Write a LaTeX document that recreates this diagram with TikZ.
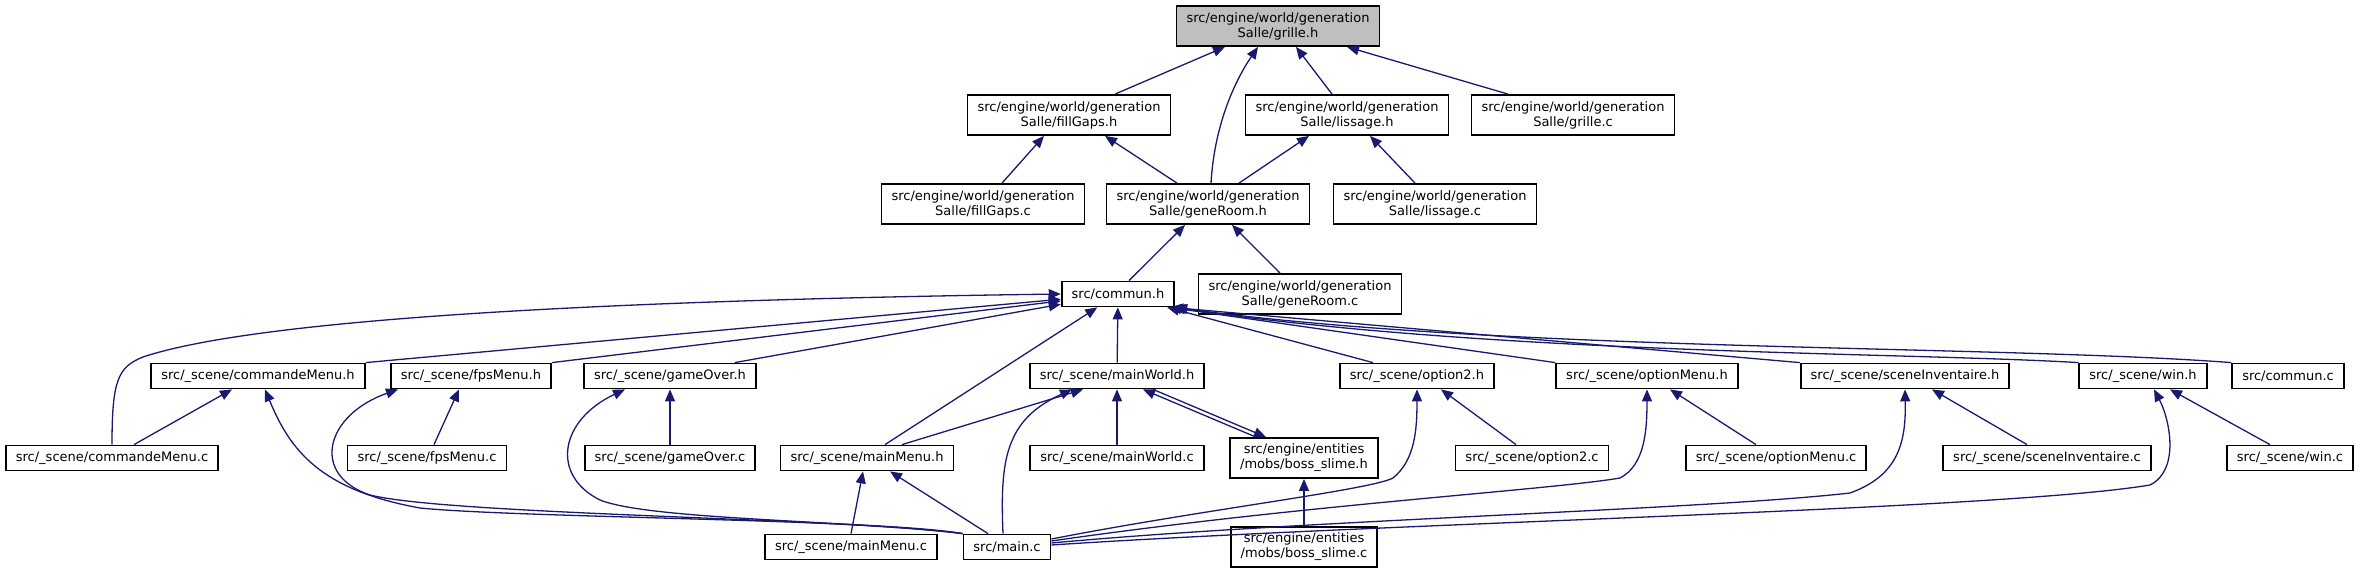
\documentclass[tikz,border=0pt]{standalone}
\usepackage{fontspec}
\setmainfont{DejaVu Sans}
\usetikzlibrary{arrows.meta}
\definecolor{edgeblue}{HTML}{191970}
\definecolor{rootgrey}{HTML}{BFBFBF}

\begin{document}
\begin{tikzpicture}[x=0.5pt, y=-0.5pt,
  box/.style={draw=black, line width=0.9pt, fill=white, inner xsep=5pt, inner ysep=1pt,
    minimum height=12.5pt, align=center, font=\fontsize{6.5}{7.5}\selectfont},
  tall/.style={box, minimum height=20pt},
  root/.style={tall, fill=rootgrey},
  inc/.style={draw=edgeblue, line width=0.65pt, -{Triangle[length=6pt,width=5pt]}}]
  \useasboundingbox (0,0) rectangle (2362,573);

  \node[root] (grilleH) at (1278,26) {src/engine/world/generation\\Salle/grille.h};
  \node[tall] (fillGapsH) at (1069,115) {src/engine/world/generation\\Salle/fillGaps.h};
  \node[tall] (lissageH) at (1347,115) {src/engine/world/generation\\Salle/lissage.h};
  \node[tall] (grilleC) at (1573,115) {src/engine/world/generation\\Salle/grille.c};
  \node[tall] (fillGapsC) at (983,204) {src/engine/world/generation\\Salle/fillGaps.c};
  \node[tall] (geneRoomH) at (1208,204) {src/engine/world/generation\\Salle/geneRoom.h};
  \node[tall] (lissageC) at (1435,204) {src/engine/world/generation\\Salle/lissage.c};
  \node[box] (communH) at (1118,294) {src/commun.h};
  \node[tall] (geneRoomC) at (1300,294) {src/engine/world/generation\\Salle/geneRoom.c};

  \node[box] (commandeMenuH) at (258,376) {src/\_scene/commandeMenu.h};
  \node[box] (fpsMenuH) at (471,376) {src/\_scene/fpsMenu.h};
  \node[box] (gameOverH) at (670,376) {src/\_scene/gameOver.h};
  \node[box] (mainWorldH) at (1117,376) {src/\_scene/mainWorld.h};
  \node[box] (option2H) at (1417,376) {src/\_scene/option2.h};
  \node[box] (optionMenuH) at (1647,376) {src/\_scene/optionMenu.h};
  \node[box] (sceneInvH) at (1905,376) {src/\_scene/sceneInventaire.h};
  \node[box] (winH) at (2143,376) {src/\_scene/win.h};
  \node[box] (communC) at (2288,376) {src/commun.c};

  \node[box] (commandeMenuC) at (112,458) {src/\_scene/commandeMenu.c};
  \node[box] (fpsMenuC) at (427,458) {src/\_scene/fpsMenu.c};
  \node[box] (gameOverC) at (670,458) {src/\_scene/gameOver.c};
  \node[box] (mainMenuH) at (867,458) {src/\_scene/mainMenu.h};
  \node[box] (mainWorldC) at (1117,458) {src/\_scene/mainWorld.c};
  \node[tall] (bossSlimeH) at (1304,458) {src/engine/entities\\/mobs/boss\_slime.h};
  \node[box] (option2C) at (1532,458) {src/\_scene/option2.c};
  \node[box] (optionMenuC) at (1776,458) {src/\_scene/optionMenu.c};
  \node[box] (sceneInvC) at (2047,458) {src/\_scene/sceneInventaire.c};
  \node[box] (winC) at (2290,458) {src/\_scene/win.c};

  \node[box] (mainMenuC) at (851,547) {src/\_scene/mainMenu.c};
  \node[box] (mainC) at (1007,547) {src/main.c};
  \node[tall] (bossSlimeC) at (1304,547) {src/engine/entities\\/mobs/boss\_slime.c};

  \draw[inc] ([xshift=23pt]fillGapsH.north) -- ([xshift=-26.5pt]grilleH.south);
  \draw[inc] ([xshift=1.5pt]geneRoomH.north) .. controls (1214,130) and (1232,85) .. ([xshift=-10pt]grilleH.south);
  \draw[inc] ([xshift=-7.5pt]lissageH.north) -- ([xshift=9pt]grilleH.south);
  \draw[inc] ([xshift=-32.5pt]grilleC.north) -- ([xshift=34.5pt]grilleH.south);
  \draw[inc] ([xshift=9.5pt]fillGapsC.north) -- ([xshift=-12.5pt]fillGapsH.south);
  \draw[inc] ([xshift=-15.5pt]geneRoomH.north) -- ([xshift=18pt]fillGapsH.south);
  \draw[inc] ([xshift=15.5pt]geneRoomH.north) -- ([xshift=-19pt]lissageH.south);
  \draw[inc] ([xshift=-10pt]lissageC.north) -- ([xshift=11.5pt]lissageH.south);
  \draw[inc] ([xshift=5.5pt]communH.north) -- ([xshift=-11.5pt]geneRoomH.south);
  \draw[inc] ([xshift=-10pt]geneRoomC.north) -- ([xshift=12pt]geneRoomH.south);

  \draw[inc] (commandeMenuC.north) .. controls (112,380) and (118,367) .. (143,357)
    .. controls (260,318) and (620,300) .. (communH.west);
  \draw[inc] (commandeMenuH.north east) -- (communH);
  \draw[inc] (fpsMenuH.north east) -- (communH);
  \draw[inc] ([xshift=-11pt]gameOverH.north east) -- (communH);
  \draw[inc] ([xshift=9pt]mainMenuH.north) -- (communH);
  \draw[inc] (mainWorldH) -- (communH);
  \draw[inc] ([xshift=-22pt]option2H.north) -- ([xshift=-4pt]communH.south east);
  \draw[inc] (optionMenuH.north west) -- ([xshift=-3pt]communH.south east);
  \draw[inc] (sceneInvH.north west) -- ([xshift=-2pt]communH.south east);
  \draw[inc] (winH.north west) .. controls (1900,352) and (1500,355) .. ([xshift=-1pt]communH.south east);
  \draw[inc] (communC.north west) .. controls (2000,345) and (1500,352) .. (communH.south east);

  \draw[inc] ([xshift=11pt]commandeMenuC.north) -- ([xshift=-13pt]commandeMenuH.south);
  \draw[inc] (mainC.north west) .. controls (880,519) and (520,518) .. (420,508)
    .. controls (320,490) and (290,450) .. ([xshift=3.5pt]commandeMenuH.south);
  \draw[inc] ([xshift=3.5pt]fpsMenuC.north) -- ([xshift=-6pt]fpsMenuH.south);
  \draw[inc] (mainC.north west) .. controls (850,518) and (450,515) .. (370,495)
    .. controls (310,475) and (325,415) .. ([xshift=-36.5pt]fpsMenuH.south);
  \draw[inc] (gameOverC) -- (gameOverH);
  \draw[inc] (mainC.north west) .. controls (850,520) and (650,520) .. (600,500)
    .. controls (550,475) and (560,420) .. ([xshift=-22.5pt]gameOverH.south);

  \draw[inc] ([xshift=17.5pt]mainMenuH.north) -- ([xshift=-17pt]mainWorldH.south);
  \draw[inc] ([xshift=-2pt]mainC.north) .. controls (1000,460) and (1005,420) .. ([xshift=-22.5pt]mainWorldH.south);
  \draw[inc] (mainWorldC) -- (mainWorldH);
  \draw[inc] ([xshift=-24pt]bossSlimeH.north) -- ([xshift=13pt]mainWorldH.south);
  \draw[inc] ([xshift=18pt]mainWorldH.south) -- ([xshift=-19pt]bossSlimeH.north);
  \draw[inc] (mainMenuC.north) -- ([xshift=-2pt]mainMenuH.south);
  \draw[inc] ([xshift=-9.5pt]mainC.north) -- ([xshift=11.5pt]mainMenuH.south);
  \draw[inc] (bossSlimeC) -- (bossSlimeH);

  \draw[inc] ([yshift=4pt]mainC.east) .. controls (1200,510) and (1370,490) .. (1393,478)
    .. controls (1415,460) and (1417,430) .. (option2H.south);
  \draw[inc] ([xshift=-8pt]option2C.north) -- ([xshift=12pt]option2H.south);
  \draw[inc] ([yshift=3pt]mainC.east) .. controls (1300,505) and (1550,490) .. (1620,478)
    .. controls (1645,465) and (1647,430) .. (optionMenuH.south);
  \draw[inc] ([xshift=-10pt]optionMenuC.north) -- ([xshift=11.5pt]optionMenuH.south);
  \draw[inc] ([yshift=2pt]mainC.east) .. controls (1300,520) and (1700,510) .. (1850,493)
    .. controls (1900,475) and (1906,440) .. (sceneInvH.south);
  \draw[inc] ([xshift=-10pt]sceneInvC.north) -- ([xshift=13.5pt]sceneInvH.south);
  \draw[inc] ([yshift=1pt]mainC.east) .. controls (1400,522) and (2000,510) .. (2150,485)
    .. controls (2180,470) and (2170,420) .. ([xshift=5.5pt]winH.south);
  \draw[inc] ([xshift=-10pt]winC.north) -- ([xshift=13.5pt]winH.south);
\end{tikzpicture}
\end{document}
